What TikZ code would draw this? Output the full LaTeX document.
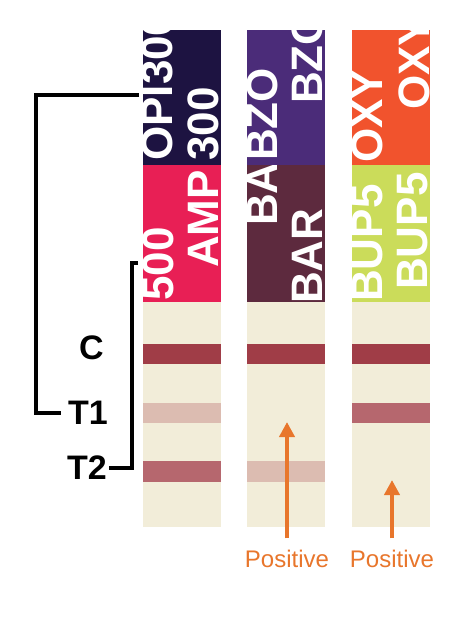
\documentclass[tikz,border=0pt]{standalone}
\usepackage{fontspec}
\setmainfont{Liberation Sans}
\usetikzlibrary{arrows.meta, positioning}

\definecolor{opinavy}{HTML}{1D1341}
\definecolor{amppink}{HTML}{E81F55}
\definecolor{bzopurple}{HTML}{4B2C79}
\definecolor{barplum}{HTML}{5D2A3E}
\definecolor{oxyorange}{HTML}{F1532D}
\definecolor{bupgreen}{HTML}{CBDC5A}
\definecolor{stripbeige}{HTML}{F2EDD9}
\definecolor{bandc}{HTML}{A03D47}
\definecolor{bandfaint}{HTML}{DCBCB1}
\definecolor{bandmid}{HTML}{B6676E}
\definecolor{posorange}{HTML}{E8762C}

\tikzset{
  striptext/.style={rotate=90, anchor=base west, inner sep=0pt, text=white,
    font=\fontsize{44}{44}\selectfont\bfseries},
  sidelabel/.style={anchor=east, inner sep=0pt, font=\fontsize{34}{34}\selectfont\bfseries},
  bracket/.style={line width=3.5pt},
  posarrow/.style={-{Triangle[width=15pt,length=15pt]}, line width=4.5pt, color=posorange},
  poslabel/.style={anchor=base, inner sep=0pt, text=posorange, font=\fontsize{24}{24}\selectfont}
}

\begin{document}
\begin{tikzpicture}[x=1pt, y=-1pt]
  \useasboundingbox (0,0) rectangle (460,626);

  % test windows and control line
  \foreach \sx in {143,247,352} {
    \fill[stripbeige] (\sx,302) rectangle ++(78,225);
    \fill[bandc] (\sx,344) rectangle ++(78,20);
  }
  \fill[bandfaint] (143,403) rectangle ++(78,20);
  \fill[bandmid] (143,461) rectangle ++(78,21);
  \fill[bandfaint] (247,461) rectangle ++(78,21);
  \fill[bandmid] (352,403) rectangle ++(78,20);

  % drug labels, strip 1
  \begin{scope}
    \clip (143,30) rectangle (221,165);
    \fill[opinavy] (143,30) rectangle (221,165);
    \node[striptext] (opi1) at (172,161) {OPI300};
    \node[striptext] (opi2) at (218,161) {300};
  \end{scope}
  \begin{scope}
    \clip (143,165) rectangle (221,302);
    \fill[amppink] (143,165) rectangle (221,302);
    \node[striptext] (amp1) at (173,301) {500};
    \node[striptext] (amp2) at (218,268) {AMP};
  \end{scope}

  % strip 2
  \begin{scope}
    \clip (247,30) rectangle (325,165);
    \fill[bzopurple] (247,30) rectangle (325,165);
    \node[striptext] (bzo1) at (277,161) {BZO};
    \node[striptext] (bzo2) at (322,104) {BZO};
  \end{scope}
  \begin{scope}
    \clip (247,165) rectangle (325,302);
    \fill[barplum] (247,165) rectangle (325,302);
    \node[striptext] (bar1) at (277,226) {BA};
    \node[striptext] (bar2) at (322,304) {BAR};
  \end{scope}

  % strip 3
  \begin{scope}
    \clip (352,30) rectangle (430,165);
    \fill[oxyorange] (352,30) rectangle (430,165);
    \node[striptext] (oxy1) at (382,163) {OXY};
    \node[striptext] (oxy2) at (429,110) {OXY};
  \end{scope}
  \begin{scope}
    \clip (352,165) rectangle (430,302);
    \fill[bupgreen] (352,165) rectangle (430,302);
    \node[striptext] (bup1) at (382,302) {BUP5};
    \node[striptext] (bup2) at (427,290) {BUP5};
  \end{scope}

  % line names and brackets
  \node[sidelabel] (cline) at (104,348) {C};
  \node[sidelabel] (t1) at (108,413) {T1};
  \node[sidelabel] (t2) at (107,468) {T2};
  \coordinate (opitick) at (139,95);
  \coordinate (amptick) at (138,263);
  \draw[bracket, shorten >=7pt] (opitick) -- (36,95) |- (t1.west);
  \draw[bracket, shorten >=2pt] (amptick) -- (132,263) |- (t2.east);

  % positive marks
  \node[poslabel] (pos1) at (287,567) {Positive};
  \node[poslabel] (pos2) at (392,567) {Positive};
  \coordinate (tip1) at (287,422);
  \coordinate (tip2) at (392,480);
  \draw[posarrow, shorten <=11pt] (pos1.north) -- (tip1);
  \draw[posarrow, shorten <=11pt] (pos2.north) -- (tip2);
\end{tikzpicture}
\end{document}
